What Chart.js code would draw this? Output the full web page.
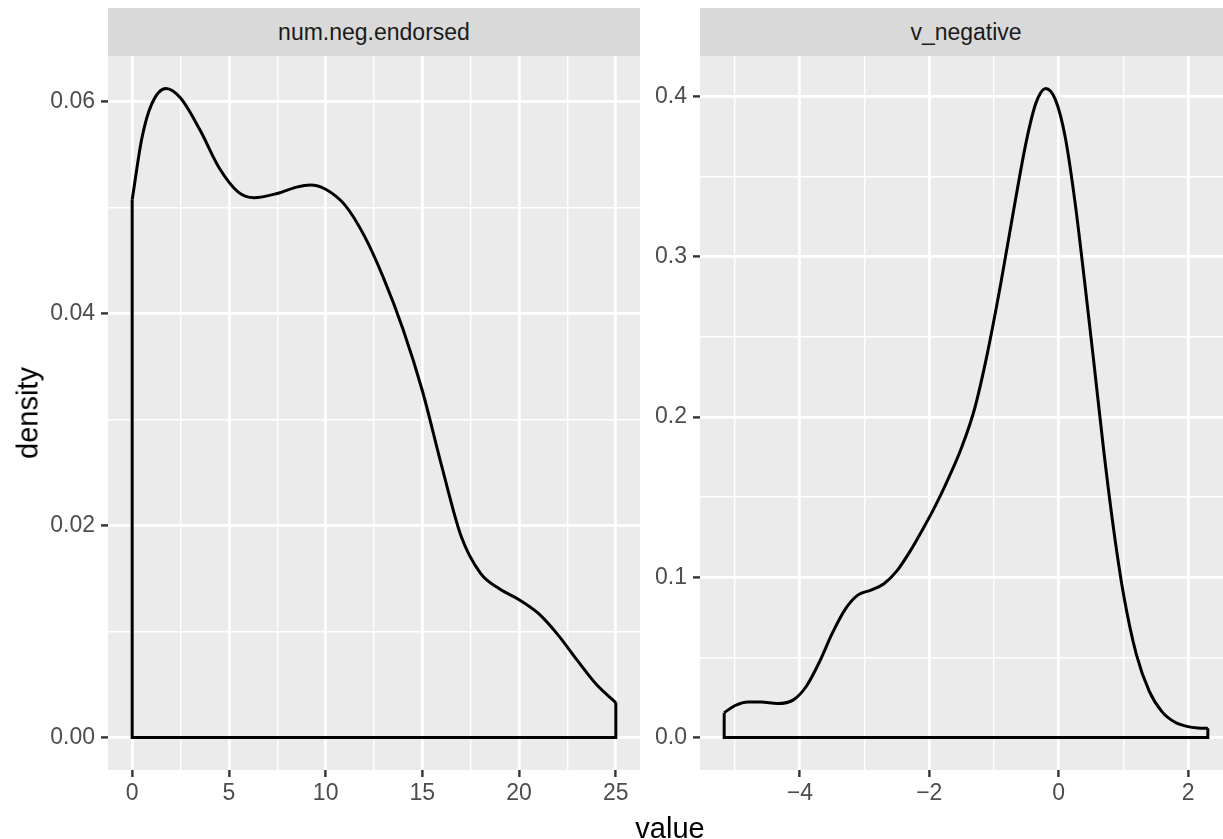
<!DOCTYPE html>
<html>
<head>
<meta charset="utf-8">
<title>density</title>
<script src="https://cdn.jsdelivr.net/npm/chart.js@4.4.0/dist/chart.umd.min.js"></script>
<style>
  html, body { margin: 0; padding: 0; overflow: hidden; background: #ffffff; }
  #wrap { position: relative; width: 1223px; height: 839px; overflow: hidden;
          font-family: "Liberation Sans", Arial, sans-serif; }
  canvas { position: absolute; top: 0; }
  .strip { position: absolute; top: 8px; height: 48px; background: #D9D9D9; color: #1A1A1A;
           font-size: 23px; line-height: 48px; text-align: center; }
  .axisTitle { position: absolute; font-size: 29px; line-height: 29px; color: #000000; white-space: nowrap; }
</style>
</head>
<body>
<div id="wrap">
  <canvas id="panelNeg" width="640" height="839" style="left:0px"></canvas>
  <canvas id="panelV" width="592" height="839" style="left:640px"></canvas>
  <div class="strip" style="left:108px; width:532px">num.neg.endorsed</div>
  <div class="strip" style="left:700px; width:532px">v_negative</div>
  <div class="axisTitle" style="left:670px; top:814px; transform:translateX(-50%)">value</div>
  <div class="axisTitle" style="left:28px; top:413px; transform:translate(-50%,-50%) rotate(-90deg)">density</div>
</div>
<script>
// num.neg.endorsed density
const negX = [0, 0.5, 1, 1.75, 2.5, 3.5, 4.5, 5.5, 6.3, 7.5, 8.5, 9.2, 10, 11, 12, 13, 14, 15, 16, 17, 18, 19, 20, 21, 22, 23, 24, 25];
const negY = [0.0507, 0.0565, 0.0597, 0.0612, 0.0603, 0.0573, 0.0537, 0.0514, 0.0509, 0.0513, 0.0519, 0.0521, 0.0517, 0.0502, 0.0473,
              0.0433, 0.0385, 0.0327, 0.0256, 0.0190, 0.0155, 0.0140, 0.0130, 0.0117, 0.0097, 0.0073, 0.0050, 0.0033];

// v_negative density
const vX = [-5.17, -5.0, -4.8, -4.6, -4.35, -4.1, -3.9, -3.7, -3.5, -3.3, -3.1, -2.9, -2.7, -2.5, -2.3, -2.1, -1.9, -1.7, -1.5, -1.3,
            -1.1, -0.9, -0.7, -0.5, -0.35, -0.2, -0.05, 0.1, 0.25, 0.4, 0.55, 0.7, 0.85, 1.0, 1.2, 1.4, 1.6, 1.8, 2.0, 2.15, 2.306];
const vY = [0.0155, 0.0200, 0.0222, 0.0222, 0.0212, 0.0235, 0.032, 0.047, 0.065, 0.080, 0.089, 0.092, 0.096, 0.104, 0.116, 0.130, 0.145,
            0.162, 0.181, 0.205, 0.240, 0.282, 0.328, 0.372, 0.396, 0.405, 0.398, 0.375, 0.335, 0.285, 0.232, 0.178, 0.130, 0.090,
            0.052, 0.029, 0.016, 0.0095, 0.0068, 0.0060, 0.0058];

// breaks
const negXMajor = [0, 5, 10, 15, 20, 25];
const negXMinor = [2.5, 7.5, 12.5, 17.5, 22.5];
const negYMajor = [0, 0.02, 0.04, 0.06];
const negYMinor = [0.01, 0.03, 0.05];
const vXMajor = [-4, -2, 0, 2];
const vXMinor = [-5, -3, -1, 1];
const vYMajor = [0, 0.1, 0.2, 0.3, 0.4];
const vYMinor = [0.05, 0.15, 0.25, 0.35];

const FONT = '"Liberation Sans", Arial, sans-serif';

const panelBg = {
  id: 'panelBg',
  beforeDraw(chart) {
    const a = chart.chartArea;
    const ctx = chart.ctx;
    ctx.save();
    ctx.fillStyle = '#EBEBEB';
    ctx.fillRect(a.left, a.top, a.right - a.left, a.bottom - a.top);
    ctx.restore();
  }
};

function fmt(v, digits) {
  const s = Math.abs(v).toFixed(digits);
  return v < 0 ? '\u2212' + s : s;
}

function axis(major, minor, lo, hi, digits, isX, axisSize) {
  return {
    type: 'linear',
    min: lo,
    max: hi,
    border: { display: false },
    afterBuildTicks(scale) {
      scale.ticks = major.concat(minor).sort((a, b) => a - b).map(v => ({ value: v }));
    },
    afterFit(scale) {
      if (isX) scale.height = axisSize; else scale.width = axisSize;
    },
    grid: {
      color: '#FFFFFF',
      lineWidth: c => major.includes(c.tick.value) ? 2.8 : 1.4,
      drawTicks: true,
      tickLength: 7,
      tickWidth: 2.4,
      tickColor: c => major.includes(c.tick.value) ? '#333333' : 'rgba(0,0,0,0)'
    },
    ticks: {
      autoSkip: false,
      maxRotation: 0,
      padding: isX ? 3 : 6,
      color: '#4D4D4D',
      font: { family: FONT, size: 23 },
      callback: v => major.includes(v) ? fmt(v, digits) : ''
    }
  };
}

function drawPanel(id, xs, ys, xMaj, xMin, yMaj, yMin, xDigits, yDigits, yAxisWidth) {
  // ggplot-style 5% expansion around the data range
  const x0 = Math.min(...xs), x1 = Math.max(...xs);
  const y1 = Math.max(...ys);
  const xPad = (x1 - x0) * 0.05, yPad = y1 * 0.05;

  const curve = xs.map((x, i) => ({ x: x, y: ys[i] }));
  const n = xs.length - 1;
  // closed outline: sides and baseline of the density polygon
  const frame = [
    { x: xs[0], y: ys[0] }, { x: xs[0], y: 0 },
    { x: xs[n], y: 0 }, { x: xs[n], y: ys[n] }
  ];

  return new Chart(document.getElementById(id), {
    type: 'scatter',
    data: {
      datasets: [
        { data: curve, showLine: true, borderColor: '#000000', borderWidth: 3,
          pointRadius: 0, cubicInterpolationMode: 'monotone', borderJoinStyle: 'round' },
        { data: frame, showLine: true, borderColor: '#000000', borderWidth: 3,
          pointRadius: 0, tension: 0, borderJoinStyle: 'miter' }
      ]
    },
    options: {
      responsive: false,
      animation: false,
      devicePixelRatio: 1,
      layout: { padding: { top: 56, left: 0, right: 0, bottom: 0 } },
      plugins: { legend: { display: false }, tooltip: { enabled: false } },
      scales: {
        x: axis(xMaj, xMin, x0 - xPad, x1 + xPad, xDigits, true, 69),
        y: axis(yMaj, yMin, -yPad, y1 + yPad, yDigits, false, yAxisWidth)
      }
    },
    plugins: [panelBg]
  });
}

drawPanel('panelNeg', negX, negY, negXMajor, negXMinor, negYMajor, negYMinor, 0, 2, 108);
drawPanel('panelV', vX, vY, vXMajor, vXMinor, vYMajor, vYMinor, 0, 1, 60);
</script>
</body>
</html>
